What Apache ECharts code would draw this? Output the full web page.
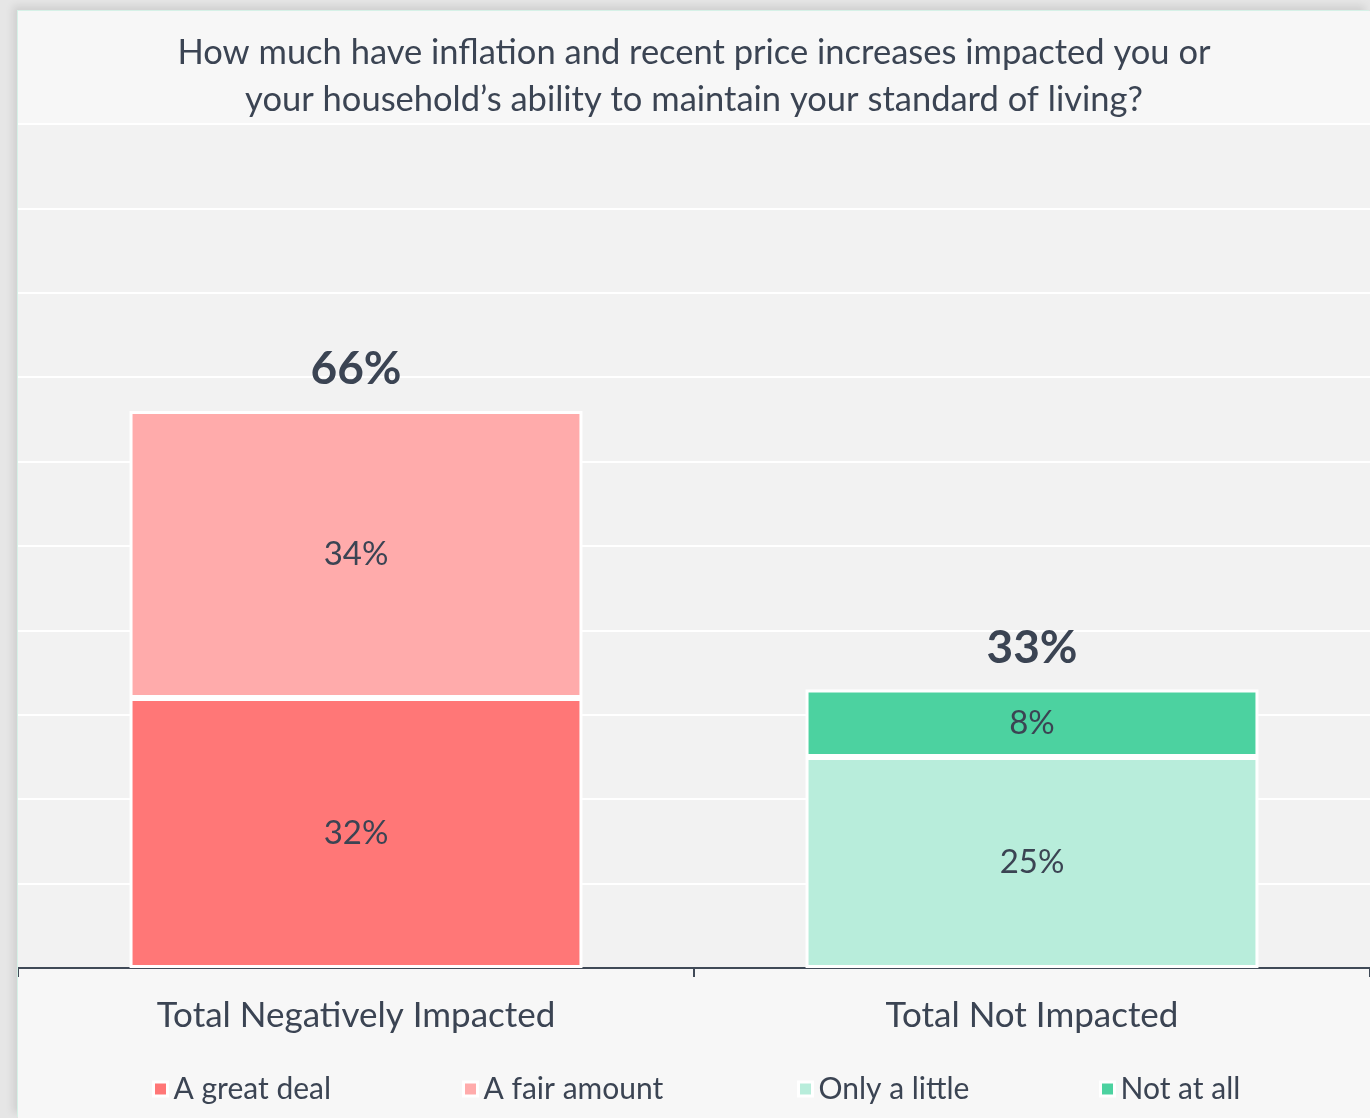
<!DOCTYPE html>
<html>
<head>
<meta charset="utf-8">
<script src="https://cdn.jsdelivr.net/npm/echarts@6/dist/echarts.min.js"></script>
<style>
html, body { margin: 0; padding: 0; }
body {
  width: 1370px; height: 1118px; overflow: hidden;
  background: #e6e6e6; position: relative;
}
#chart {
  position: absolute; left: 18px; top: 11px;
  width: 1352px; height: 1107px;
  background: #f7f7f7;
  box-shadow: -1px -1px 0 #d6f1e7, -5px -5px 8px rgba(0,0,0,0.10);
}
</style>
</head>
<body>
<div id="chart"></div>
<script>
// 数据
var categories = ['Total Negatively Impacted', 'Total Not Impacted']
var greatDeal = [32, 0]
var fairAmount = [34, 0]
var onlyLittle = [0, 25]
var notAtAll = [0, 8]
var seriesNames = ['A great deal', 'A fair amount', 'Only a little', 'Not at all']
var seriesColors = ['#ff7777', '#ffabab', '#b8eddb', '#4cd2a0']
var totals = [greatDeal[0] + fairAmount[0], onlyLittle[1] + notAtAll[1]]

var textColor = '#3b4453'
var fontFamily = 'Lato, "Open Sans", sans-serif'
var myChart = echarts.init(document.getElementById('chart'))

function barSeries(name, data, color) {
  return {
    name: name,
    type: 'bar',
    stack: 'total',
    barWidth: '67%',
    data: data.map(function (v) { return v === 0 ? null : v }),
    itemStyle: {
      color: color,
      borderColor: '#ffffff',
      borderWidth: 3
    },
    label: {
      show: true,
      position: 'inside',
      formatter: '{c}%',
      color: textColor,
      fontSize: 33,
      fontFamily: fontFamily
    }
  }
}

// 每个图例单独摆放
var legendLefts = [129, 439, 774, 1076]
var legends = seriesNames.map(function (name, i) {
  return {
    data: [name],
    left: legendLefts[i],
    top: 1058,
    icon: 'rect',
    itemWidth: 14,
    itemHeight: 14,
    itemStyle: { borderColor: '#ffffff', borderWidth: 3 },
    textStyle: {
      color: textColor,
      fontSize: 30,
      fontFamily: fontFamily,
      padding: [0, 0, 0, 1]
    },
    selectedMode: false
  }
})

myChart.setOption({
  animation: false,
  title: {
    text: 'How much have inflation and recent price increases impacted you or\nyour household\u2019s ability to maintain your standard of living?',
    left: 'center',
    top: 18,
    padding: 0,
    textStyle: {
      color: textColor,
      fontSize: 34.5,
      fontWeight: 'normal',
      lineHeight: 47,
      fontFamily: fontFamily
    }
  },
  legend: legends,
  grid: {
    left: 0,
    right: 0,
    top: 113,
    bottom: 150,
    show: true,
    backgroundColor: '#f2f2f2',
    borderWidth: 0
  },
  xAxis: {
    type: 'category',
    data: categories,
    axisLine: { lineStyle: { color: '#404a57', width: 2 } },
    axisTick: { show: true, length: 9, lineStyle: { color: '#404a57', width: 2 } },
    axisLabel: {
      color: textColor,
      fontSize: 35,
      fontFamily: fontFamily,
      margin: 30
    }
  },
  yAxis: {
    type: 'value',
    min: 0,
    max: 100,
    interval: 10,
    axisLine: { show: false },
    axisTick: { show: false },
    axisLabel: { show: false },
    splitLine: { lineStyle: { color: '#ffffff', width: 2 } }
  },
  series: [
    barSeries(seriesNames[0], greatDeal, seriesColors[0]),
    barSeries(seriesNames[1], fairAmount, seriesColors[1]),
    barSeries(seriesNames[2], onlyLittle, seriesColors[2]),
    barSeries(seriesNames[3], notAtAll, seriesColors[3]),
    {
      // 总计标签
      name: 'Total',
      type: 'scatter',
      data: totals,
      symbolSize: 1,
      itemStyle: { color: 'rgba(0,0,0,0)', opacity: 1 },
      label: {
        show: true,
        position: 'top',
        distance: 18,
        formatter: '{c}%',
        color: textColor,
        opacity: 1,
        fontSize: 46,
        fontWeight: 'bold',
        fontFamily: fontFamily
      },
      z: 5
    }
  ]
})
</script>
</body>
</html>
